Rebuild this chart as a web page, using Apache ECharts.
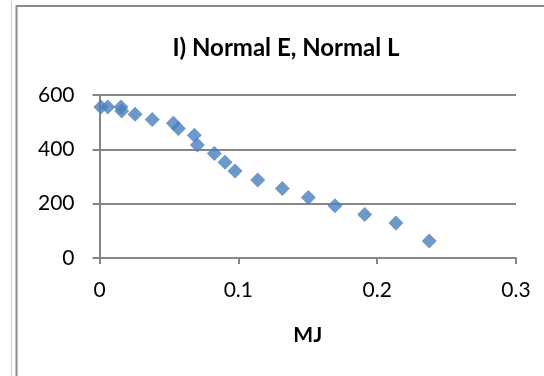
<!DOCTYPE html>
<html>
<head>
<meta charset="utf-8">
<script src="https://cdn.jsdelivr.net/npm/echarts@6/dist/echarts.min.js"></script>
<style>
html,body{margin:0;padding:0;background:#fff;}
#c{width:544px;height:376px;}
</style>
</head>
<body>
<div id="c"></div>
<script>
const titleText = "I) Normal E, Normal L";
const xAxisName = "MJ";
const xValues = [0.001, 0.006, 0.0155, 0.016, 0.0256, 0.038, 0.0532, 0.0568, 0.0683, 0.0705, 0.0827, 0.0904, 0.0976, 0.114, 0.1317, 0.1504, 0.1696, 0.191, 0.2135, 0.2375];
const yValues = [556, 556, 556, 541, 529, 510, 496, 477, 452, 416, 385, 352, 320, 287, 256, 223, 192, 160, 129, 63];
const xTicks = [0, 0.1, 0.2, 0.3];
const yTicks = [0, 200, 400, 600];

const points = xValues.map((x, i) => [x, yValues[i]]);
const font = "Lato, 'Open Sans', sans-serif";
const axisGray = "#868686";

const chart = echarts.init(document.getElementById('c'), null, {renderer: 'canvas'});
chart.setOption({
  backgroundColor: '#ffffff',
  animation: false,
  title: {
    text: titleText,
    left: 281, top: 31, textAlign: 'center',
    textStyle: {fontFamily: font, fontWeight: 'bold', fontSize: 24, color: '#000'}
  },
  grid: {left: 99.5, right: 28, top: 95, bottom: 118},
  xAxis: {
    type: 'value', min: xTicks[0], max: xTicks[xTicks.length - 1], interval: 0.1,
    name: xAxisName, nameLocation: 'middle', nameGap: 67,
    nameTextStyle: {fontFamily: font, fontWeight: 'bold', fontSize: 21, color: '#000'},
    axisLine: {show: true, lineStyle: {color: axisGray, width: 2}},
    axisTick: {show: true, inside: false, length: 6, lineStyle: {color: axisGray, width: 2}},
    axisLabel: {fontFamily: font, fontSize: 21, color: '#000', margin: 22,
      formatter: v => String(Math.round(v * 10) / 10)},
    splitLine: {show: false}
  },
  yAxis: {
    type: 'value', min: yTicks[0], max: yTicks[yTicks.length - 1], interval: 200,
    axisLine: {show: true, lineStyle: {color: axisGray, width: 2}},
    axisTick: {show: true, inside: false, length: 7, lineStyle: {color: axisGray, width: 2}},
    axisLabel: {fontFamily: font, fontSize: 21, color: '#000', margin: 25},
    splitLine: {show: true, lineStyle: {color: axisGray, width: 2}}
  },
  series: [{
    type: 'scatter',
    data: points,
    symbol: 'diamond',
    symbolSize: 15,
    itemStyle: {color: '#4a7ebb'}
  }],
  graphic: [
    {type: 'line', shape: {x1: 11.5, y1: 0, x2: 11.5, y2: 376}, style: {stroke: '#d9d9d9', lineWidth: 1.5}},
    {type: 'line', shape: {x1: 16.5, y1: 5, x2: 16.5, y2: 376}, style: {stroke: '#8c8c8c', lineWidth: 2}},
    {type: 'line', shape: {x1: 16, y1: 6, x2: 544, y2: 6}, style: {stroke: '#8c8c8c', lineWidth: 2}}
  ]
});
</script>
</body>
</html>
